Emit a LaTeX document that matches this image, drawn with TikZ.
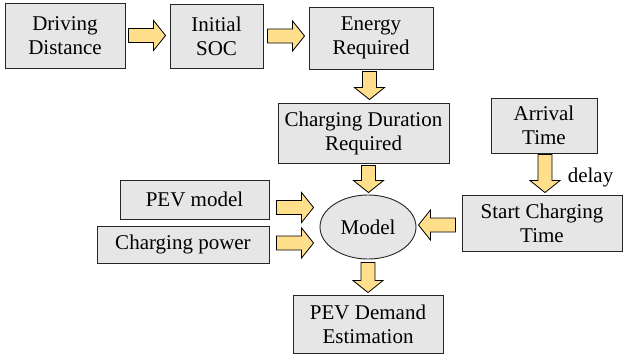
\documentclass[tikz,border=0pt]{standalone}
\usepackage{fontspec}
\setmainfont{Liberation Serif}
\usetikzlibrary{calc,shapes.geometric}
\definecolor{boxgray}{RGB}{230,230,230}
\definecolor{arrowyellow}{RGB}{255,222,140}
\tikzset{
  box/.style={draw=black!85, line width=0.9pt, fill=boxgray, inner sep=0pt, align=center,
    font=\fontsize{21}{24}\selectfont},
  ellbox/.style={ellipse, draw=black!85, line width=0.9pt, fill=boxgray, inner sep=0pt,
    font=\fontsize{21}{24}\selectfont},
  lbl/.style={inner sep=0pt, font=\fontsize{21}{24}\selectfont},
  barrowstyle/.style={draw=black, line width=0.8pt, fill=arrowyellow, line join=miter}
}
% block arrow from #1 to #2 (canvas-based)
\newcommand{\barrow}[2]{%
  \path[barrowstyle] let \p1=(#1), \p2=(#2),
    \n1={veclen(\x2-\x1,\y2-\y1)},
    \n2={(\x2-\x1)/\n1}, \n3={(\y2-\y1)/\n1} in
    ({\x1-7pt*(\n3)},{\y1+7pt*(\n2)})
    -- ({\x2-12pt*(\n2)-7pt*(\n3)},{\y2-12pt*(\n3)+7pt*(\n2)})
    -- ({\x2-12pt*(\n2)-15pt*(\n3)},{\y2-12pt*(\n3)+15pt*(\n2)})
    -- (\p2)
    -- ({\x2-12pt*(\n2)+15pt*(\n3)},{\y2-12pt*(\n3)-15pt*(\n2)})
    -- ({\x2-12pt*(\n2)+7pt*(\n3)},{\y2-12pt*(\n3)-7pt*(\n2)})
    -- ({\x1+7pt*(\n3)},{\y1-7pt*(\n2)})
    -- cycle;}
\begin{document}
\begin{tikzpicture}[x=1pt,y=-1pt]
\useasboundingbox[fill=white] (0,0) rectangle (623,354);
% nodes
\node[box, minimum width=120pt, minimum height=65pt] (dd) at (65,35.5) {Driving\\Distance};
\node[box, minimum width=93pt, minimum height=64pt] (soc) at (216.5,36) {Initial\\SOC};
\node[box, minimum width=124pt, minimum height=62pt] (er) at (371,38) {Energy\\Required};
\node[box, minimum width=171pt, minimum height=60pt] (cdr) at (363.5,133) {Charging Duration\\Required};
\node[box, minimum width=106pt, minimum height=55pt] (at) at (544,125.5) {Arrival\\Time};
\node[box, minimum width=149pt, minimum height=39pt] (pm) at (194.5,199.5) {PEV model};
\node[box, minimum width=172pt, minimum height=37pt] (cp) at (183,244.5) {Charging power};
\node[ellbox, minimum width=96pt, minimum height=64pt] (model) at (368,227) {Model};
\node[box, minimum width=160pt, minimum height=56pt] (sc) at (542,223) {Start Charging\\Time};
\node[box, minimum width=150pt, minimum height=58pt] (ped) at (368,324) {PEV Demand\\Estimation};
\node[lbl] (delay) at (590.5,177) {delay};
% arrow end points
\coordinate (a1) at ($(dd.east)+(3,0)$);
\coordinate (a2) at ($(a1 -| soc.west)+(-4,0)$);
\coordinate (b1) at ($(soc.east)+(4,0)$);
\coordinate (b2) at ($(b1 -| er.west)+(-4,0)$);
\coordinate (e1) at ($(er.south)+(-1.5,2)$);
\coordinate (e2) at ($(e1 |- cdr.north)+(0,-3)$);
\coordinate (c1) at ($(model.north |- cdr.south)+(0.5,2)$);
\coordinate (c2) at ($(model.north)+(0.5,-2)$);
\coordinate (m1) at ($(model.south)+(0,3)$);
\coordinate (m2) at ($(ped.north)+(0,-2)$);
\coordinate (t1) at ($(at.south)+(1,1)$);
\coordinate (t2) at ($(t1 |- sc.north)+(0,-2)$);
\coordinate (p1) at ($(pm.east)+(7,8)$);
\coordinate (p2) at ($(p1 -| model.west)+(-6,0)$);
\coordinate (q1) at ($(cp.east)+(7,-1.5)$);
\coordinate (q2) at ($(q1 -| model.west)+(-6,0)$);
\coordinate (s1) at ($(sc.west)+(-6,2)$);
\coordinate (s2) at ($(s1 -| model.east)+(2,0)$);
% block arrows
\barrow{a1}{a2}
\barrow{b1}{b2}
\barrow{e1}{e2}
\barrow{c1}{c2}
\barrow{m1}{m2}
\barrow{t1}{t2}
\barrow{p1}{p2}
\barrow{q1}{q2}
\barrow{s1}{s2}
\end{tikzpicture}
\end{document}
